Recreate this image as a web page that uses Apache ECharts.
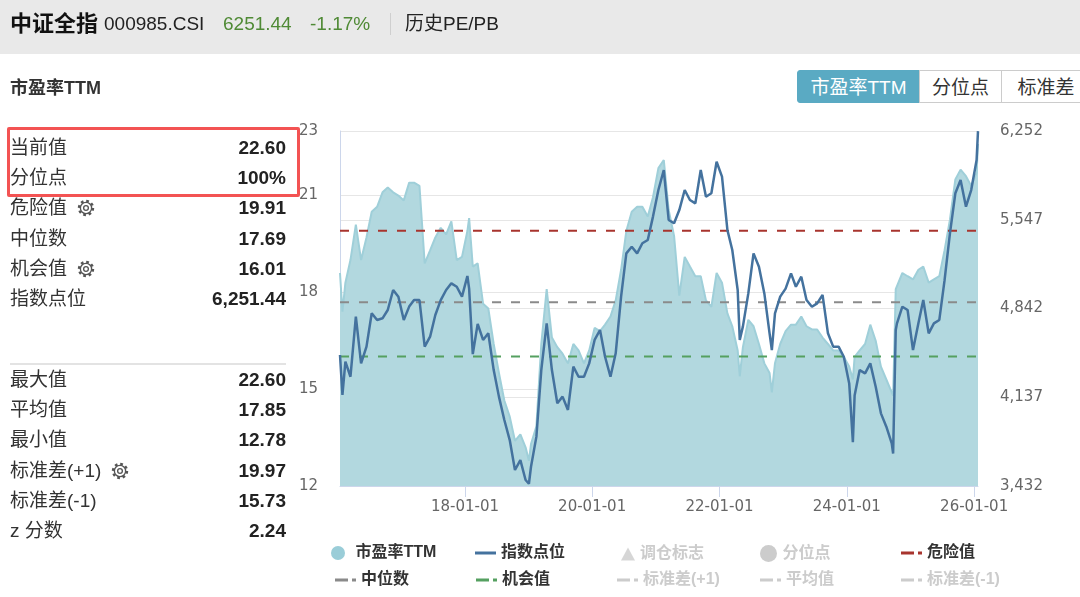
<!DOCTYPE html>
<html><head><meta charset="utf-8">
<script src="https://cdn.jsdelivr.net/npm/echarts@6/dist/echarts.min.js"></script>
<style>
html,body{margin:0;padding:0;width:1080px;height:597px;overflow:hidden;background:#fff;font-family:'Liberation Sans','Noto Sans CJK SC',sans-serif;color:#333;}
#hdr{position:absolute;left:0;top:0;width:1080px;height:54px;background:#e9e9e9;z-index:0;}
.t{position:absolute;white-space:nowrap;z-index:2;}
#chart{position:absolute;left:0;top:0;width:1080px;height:597px;z-index:1;}
.row{position:absolute;left:10px;width:276px;height:30px;line-height:30px;font-size:19px;display:flex;justify-content:space-between;z-index:2;color:#333;}
.row b{font-weight:bold;color:#222;}
.row svg{vertical-align:-3px;margin-left:10px;}
#box{position:absolute;left:7px;top:127px;width:287px;height:64px;border:3px solid #f35353;border-radius:2px;z-index:3;}
#sep{position:absolute;left:10px;top:363px;width:276px;height:2px;background:#e3e3e3;z-index:2;}
.btn{position:absolute;top:70px;height:33px;line-height:33px;font-size:19px;text-align:center;z-index:2;box-sizing:border-box;border:1px solid #ccc;background:#fff;color:#333;}
</style></head><body>
<div id="hdr"></div>
<div class="t" style="left:10px;top:10px;font-size:22px;font-weight:bold;color:#111;line-height:28px;">中证全指</div>
<div class="t" style="left:104px;top:10px;font-size:19px;color:#222;line-height:28px;">000985.CSI</div>
<div class="t" style="left:223px;top:10px;font-size:19px;color:#4f8a35;line-height:28px;">6251.44</div>
<div class="t" style="left:310px;top:10px;font-size:19px;color:#4f8a35;line-height:28px;">-1.17%</div>
<div class="t" style="left:390px;top:13px;width:1px;height:22px;background:#cfcfcf;"></div>
<div class="t" style="left:405px;top:10px;font-size:19px;color:#222;line-height:28px;">历史PE/PB</div>
<div class="t" style="left:10px;top:74px;font-size:18px;font-weight:bold;color:#333;line-height:28px;">市盈率TTM</div>

<div class="btn" style="left:797px;width:123px;background:#5aaac3;border-color:#5aaac3;color:#fff;border-radius:3px 0 0 3px;">市盈率TTM</div>
<div class="btn" style="left:919px;width:83px;">分位点</div>
<div class="btn" style="left:1001px;width:90px;">标准差</div>

<div id="box"></div>
<div id="panel"></div>
<div id="sep"></div>
<div id="chart"></div>
<script>
// ---------- data ----------
const dates = [
'2016-01-15','2016-01-29','2016-02-15','2016-03-15','2016-04-15','2016-05-15','2016-06-15','2016-07-15','2016-08-15','2016-09-15','2016-10-15','2016-11-15','2016-12-15',
'2017-01-15','2017-02-15','2017-03-15','2017-04-15','2017-05-15','2017-06-15','2017-07-15','2017-08-15','2017-09-15','2017-10-15','2017-11-15','2017-12-15',
'2018-01-15','2018-01-25','2018-02-15','2018-03-15','2018-04-15','2018-05-15','2018-06-15','2018-07-15','2018-08-15','2018-09-15','2018-10-15','2018-11-15','2018-12-15',
'2019-01-03','2019-01-15','2019-02-15','2019-03-15','2019-04-15','2019-05-15','2019-06-15','2019-07-15','2019-08-15','2019-09-15','2019-10-15','2019-11-15','2019-12-15',
'2020-01-15','2020-02-15','2020-03-15','2020-04-15','2020-05-15','2020-06-15','2020-07-15','2020-08-15','2020-09-15','2020-10-15','2020-11-15','2020-12-15',
'2021-01-15','2021-02-15','2021-03-15','2021-04-15','2021-05-15','2021-06-15','2021-07-15','2021-08-15','2021-09-15','2021-10-15','2021-11-15','2021-12-15',
'2022-01-15','2022-02-15','2022-03-15','2022-04-15','2022-04-27','2022-05-15','2022-06-15','2022-07-15','2022-08-15','2022-09-15','2022-10-15','2022-10-28','2022-11-15','2022-12-15',
'2023-01-15','2023-02-15','2023-03-15','2023-04-15','2023-05-15','2023-06-15','2023-07-15','2023-08-15','2023-09-15','2023-10-15','2023-11-15','2023-12-15',
'2024-01-15','2024-02-05','2024-02-15','2024-03-15','2024-04-15','2024-05-15','2024-06-15','2024-07-15','2024-08-15','2024-09-15','2024-09-23','2024-10-08','2024-10-15','2024-11-15','2024-12-15',
'2025-01-15','2025-02-15','2025-03-15','2025-04-15','2025-05-15','2025-06-15','2025-07-15','2025-08-15','2025-09-15','2025-10-15','2025-11-15','2025-12-15',
'2026-01-15','2026-01-23'
];
const peTTM = [
18.6,17.4,18.3,19.0,20.1,19.0,19.7,20.5,20.65,21.1,21.25,21.1,21.0,
20.85,21.4,21.4,21.3,18.9,19.3,19.7,20.0,19.8,20.2,19.0,19.1,
19.9,20.3,18.8,18.9,17.65,17.5,16.4,15.5,14.65,14.15,13.4,13.6,13.2,
12.78,13.3,13.85,16.4,18.1,16.6,16.3,16.1,15.8,16.4,16.2,15.8,16.2,
16.9,16.8,17.0,17.25,17.75,18.7,19.9,20.5,20.65,20.65,20.35,20.95,
21.85,22.1,20.55,19.75,17.9,19.1,18.8,18.5,18.5,17.75,17.55,18.6,
18.3,17.35,16.95,16.2,15.4,16.3,17.15,16.95,16.4,15.8,15.5,14.9,15.8,16.4,
16.8,17.0,17.0,17.25,16.95,16.85,16.85,16.6,16.4,16.2,16.2,16.0,
15.7,15.3,16.0,16.2,16.4,17.0,16.5,15.7,15.3,14.9,14.8,18.1,18.05,18.6,18.5,
18.4,18.7,18.8,18.3,18.4,18.5,19.3,20.25,21.5,21.8,21.6,21.3,
21.7,22.60
];
const indexPts = [
4473,4155,4420,4300,4777,4406,4539,4804,4751,4764,4830,4989,4936,
4751,4857,4909,4909,4539,4618,4790,4909,4989,5042,5015,4936,
5100,5000,4480,4720,4592,4645,4353,4142,3956,3797,3559,3638,3480,
3450,3585,3824,4353,4724,4353,4089,4142,4036,4380,4300,4300,4406,
4592,4671,4459,4300,4486,4936,5280,5333,5280,5360,5386,5572,
5783,5942,5545,5519,5624,5783,5704,5677,5942,5730,5757,6008,
5889,5466,5307,4989,4592,4700,4962,5280,5174,4962,4645,4512,4804,4936,
5000,5121,5015,5095,4909,4856,4883,4950,4645,4539,4539,4459,
4247,3780,4150,4353,4327,4406,4221,4009,3903,3771,3690,4671,4724,4856,4830,
4512,4724,4909,4645,4724,4751,5065,5439,5757,5863,5651,5783,
6022,6251.44
];
const dangerVal = 19.91, medianVal = 17.69, chanceVal = 16.01;
const meanVal = 17.85, sdPlus = 19.97, sdMinus = 15.73;
const peAxisTicks = [12, 15, 18, 21, 23];
const idxAxisTicks = [3432, 4137, 4842, 5547, 6252];
const xTickDates = ['2018-01-01','2020-01-01','2022-01-01','2024-01-01','2026-01-01'];

const statsTop = [['当前值','22.60',false],['分位点','100%',false],['危险值','19.91',true],['中位数','17.69',false],['机会值','16.01',true],['指数点位','6,251.44',false]];
const statsBottom = [['最大值','22.60',false],['平均值','17.85',false],['最小值','12.78',false],['标准差(+1)','19.97',true],['标准差(-1)','15.73',false],['z 分数','2.24',false]];

// ---------- side panel ----------
const gear = '<svg width="18" height="18" viewBox="0 0 16 16"><circle cx="8" cy="8" r="6.2" fill="none" stroke="#555" stroke-width="2.2" stroke-dasharray="2.4 2.47"/><circle cx="8" cy="8" r="5" fill="#fff" stroke="#555" stroke-width="1.2"/><circle cx="8" cy="8" r="2.1" fill="none" stroke="#555" stroke-width="1.2"/></svg>';
const panel = document.getElementById('panel');
function addRows(rows, startCenter) {
  rows.forEach((r, i) => {
    const d = document.createElement('div');
    d.className = 'row';
    d.style.top = (startCenter + i * 30.2 - 15) + 'px';
    d.innerHTML = '<span>' + r[0] + (r[2] ? gear : '') + '</span><b>' + r[1] + '</b>';
    panel.appendChild(d);
  });
}
addRows(statsTop, 148);
addRows(statsBottom, 380);

// ---------- chart ----------
const ts = s => Date.parse(s + 'T00:00:00Z');
const peData = dates.map((d, i) => [ts(d), peTTM[i]]);
const idxData = dates.map((d, i) => [ts(d), indexPts[i]]);
const first = ts(dates[0]), last = ts(dates[dates.length - 1]);
const flat = v => [[first, v], [last, v]];
const xTicks = xTickDates.map(ts);
const dashPath = 'path://M0,0h13v3h-13z M17,0h4v3h-4z';
const legendText = {fontSize: 16, fontWeight: 'bold', color: '#333', fontFamily: "'Liberation Sans','Noto Sans CJK SC',sans-serif"};
function lg(name, left, top, icon, w, h, sel) {
  const o = {data: [name], left: left, top: top, padding: 0, icon: icon, itemWidth: w, itemHeight: h,
    textStyle: legendText, inactiveColor: '#ccc', selectedMode: true};
  if (sel === false) { const s = {}; s[name] = false; o.selected = s; }
  return o;
}
const r1 = 545, r2 = 572;
const pad = n => (n < 10 ? '0' : '') + n;
const axisFont = {color: '#666', fontSize: 15, fontFamily: "'DejaVu Sans',sans-serif"};

const chart = echarts.init(document.getElementById('chart'), null, {renderer: 'canvas'});
chart.setOption({
  animation: false,
  backgroundColor: 'transparent',
  grid: {left: 340, right: 102, top: 131, bottom: 111, containLabel: false},
  legend: [
    lg('市盈率TTM', 331, r1, 'circle', 25, 14),
    lg('指数点位', 475, r1, 'rect', 21, 3),
    lg('调仓标志', 621, r1 + 1, 'triangle', 14, 13, false),
    lg('分位点', 760, r1, 'circle', 18, 17, false),
    lg('危险值', 901, r1, dashPath, 21, 3),
    lg('中位数', 335, r2, dashPath, 21, 3),
    lg('机会值', 476, r2, dashPath, 21, 3),
    lg('标准差(+1)', 617, r2, dashPath, 21, 3, false),
    lg('平均值', 760, r2, dashPath, 21, 3, false),
    lg('标准差(-1)', 901, r2, dashPath, 21, 3, false)
  ],
  xAxis: {
    type: 'value', min: first, max: last, scale: true,
    axisLine: {show: true, lineStyle: {color: '#ccd6eb', width: 1}},
    axisTick: {show: true, customValues: xTicks, length: 11, lineStyle: {color: '#ccd6eb'}},
    axisLabel: Object.assign({customValues: xTicks, margin: 14, formatter: function (v) {
      const d = new Date(v);
      return pad(d.getUTCFullYear() % 100) + '-' + pad(d.getUTCMonth() + 1) + '-' + pad(d.getUTCDate());
    }}, axisFont),
    splitLine: {show: false}
  },
  yAxis: [
    {type: 'value', min: 12, max: 23, interval: 3, position: 'left',
     axisLine: {show: true, lineStyle: {color: '#ccd6eb'}},
     axisTick: {show: false, customValues: peAxisTicks},
     axisLabel: Object.assign({customValues: peAxisTicks, margin: 22}, axisFont),
     splitLine: {show: true, lineStyle: {color: '#e6e6e6'}}},
    {type: 'value', min: 3432, max: 6252, position: 'right',
     axisLine: {show: false},
     axisTick: {show: false, customValues: idxAxisTicks},
     axisLabel: Object.assign({customValues: idxAxisTicks, margin: 22,
       formatter: v => Math.round(v).toLocaleString('en-US')}, axisFont),
     splitLine: {show: true, lineStyle: {color: '#e6e6e6'}}}
  ],
  series: [
    {name: '市盈率TTM', type: 'line', yAxisIndex: 0, data: peData, symbol: 'none', showSymbol: false,
     lineStyle: {color: '#9fcfd9', width: 2}, itemStyle: {color: '#9acdd8'},
     areaStyle: {color: '#b2d8df', opacity: 1, origin: 'start'}, z: 1},
    {name: '危险值', type: 'line', yAxisIndex: 0, data: flat(dangerVal), symbol: 'none',
     lineStyle: {color: '#a8342e', width: 2, type: [9, 10]}, itemStyle: {color: '#a8342e'}, z: 3},
    {name: '中位数', type: 'line', yAxisIndex: 0, data: flat(medianVal), symbol: 'none',
     lineStyle: {color: '#8a8a8a', width: 2, type: [9, 10]}, itemStyle: {color: '#8a8a8a'}, z: 3},
    {name: '机会值', type: 'line', yAxisIndex: 0, data: flat(chanceVal), symbol: 'none',
     lineStyle: {color: '#55a060', width: 2, type: [9, 10]}, itemStyle: {color: '#55a060'}, z: 3},
    {name: '标准差(+1)', type: 'line', yAxisIndex: 0, data: flat(sdPlus), symbol: 'none',
     lineStyle: {color: '#999', width: 2, type: [9, 10]}, itemStyle: {color: '#999'}, z: 3},
    {name: '平均值', type: 'line', yAxisIndex: 0, data: flat(meanVal), symbol: 'none',
     lineStyle: {color: '#999', width: 2, type: [9, 10]}, itemStyle: {color: '#999'}, z: 3},
    {name: '标准差(-1)', type: 'line', yAxisIndex: 0, data: flat(sdMinus), symbol: 'none',
     lineStyle: {color: '#999', width: 2, type: [9, 10]}, itemStyle: {color: '#999'}, z: 3},
    {name: '调仓标志', type: 'scatter', yAxisIndex: 0, data: [], symbol: 'triangle', itemStyle: {color: '#999'}},
    {name: '分位点', type: 'line', yAxisIndex: 0, data: [], symbol: 'circle', itemStyle: {color: '#999'}},
    {name: '指数点位', type: 'line', yAxisIndex: 1, data: idxData, symbol: 'none', showSymbol: false,
     lineStyle: {color: '#44729e', width: 2.5}, itemStyle: {color: '#44729e'}, z: 5}
  ]
});
</script>
</body></html>
